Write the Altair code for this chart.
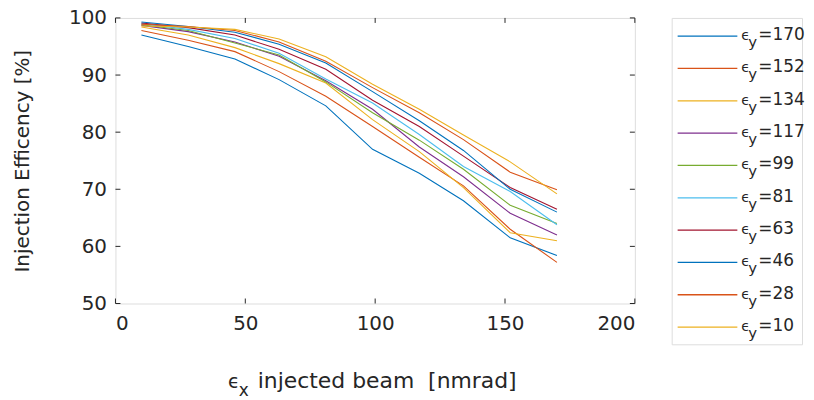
import altair as alt
import pandas as pd

# ---- data ----
x_vals = [10, 28, 46, 63, 81, 99, 117, 134, 152, 170]

e170 = [97.0, 95.0, 92.8, 89.2, 84.6, 77.0, 72.8, 68.0, 61.5, 58.4]
e152 = [97.8, 96.1, 94.1, 90.6, 86.3, 81.0, 75.6, 70.6, 63.0, 57.2]
e134 = [98.4, 97.0, 94.8, 92.0, 88.6, 82.2, 76.6, 70.3, 62.4, 61.0]
e117 = [98.7, 97.6, 95.8, 93.3, 89.0, 84.0, 77.4, 72.2, 65.8, 62.0]
e99 = [98.8, 97.8, 95.6, 93.5, 88.8, 83.4, 78.6, 73.5, 67.2, 64.0]
e81 = [99.0, 98.0, 96.4, 93.8, 89.3, 85.1, 79.6, 74.0, 69.6, 63.8]
e63 = [99.1, 98.3, 97.0, 94.5, 91.0, 85.6, 81.0, 75.8, 70.3, 66.5]
e46 = [99.3, 98.5, 97.5, 95.4, 92.1, 87.1, 82.0, 76.8, 70.0, 66.0]
e28 = [98.9, 98.5, 97.8, 95.8, 92.4, 87.8, 83.4, 78.7, 73.0, 69.9]
e10 = [98.6, 98.4, 98.0, 96.3, 93.2, 88.4, 84.0, 79.5, 74.8, 69.2]

series_names = ["170", "152", "134", "117", "99", "81", "63", "46", "28", "10"]
series_values = [e170, e152, e134, e117, e99, e81, e63, e46, e28, e10]
colors = ["#0072BD", "#D95319", "#EDB120", "#7E2F8E", "#77AC30",
          "#4DBEEE", "#A2142F", "#0072BD", "#D95319", "#EDB120"]

x_ticks = [0, 50, 100, 150, 200]
y_ticks = [50, 60, 70, 80, 90, 100]

FONT = "DejaVu Sans"
TXT = "#262626"
W, H = 522, 287

rows = []
for name, vals in zip(series_names, series_values):
    for xv, yv in zip(x_vals, vals):
        rows.append({"x": xv, "y": yv, "series": name})
df = pd.DataFrame(rows)

color_scale = alt.Scale(domain=series_names, range=colors)

lines = alt.Chart(df).mark_line(strokeWidth=1.1, clip=True).encode(
    x=alt.X("x:Q", scale=alt.Scale(domain=[0, 200], nice=False),
            axis=alt.Axis(values=x_ticks, title=None, labelFontSize=20, labelFont=FONT,
                          labelColor=TXT, tickSize=0, domain=False, grid=False,
                          labelPadding=10)),
    y=alt.Y("y:Q", scale=alt.Scale(domain=[50, 100], nice=False),
            axis=alt.Axis(values=y_ticks, title="Injection Efficency [%]",
                          titleFontSize=20, titleFont=FONT, titleColor=TXT,
                          titleFontWeight="normal", titlePadding=36,
                          labelFontSize=20, labelFont=FONT, labelColor=TXT,
                          tickSize=0, domain=False, grid=False, labelPadding=9)),
    color=alt.Color("series:N", scale=color_scale, legend=None),
    detail="series:N",
)

ydf = pd.DataFrame({"y": y_ticks})
xdf = pd.DataFrame({"x": x_ticks})
tick_l = alt.Chart(ydf).mark_rule(color=TXT, strokeWidth=1).encode(
    y="y:Q", x=alt.value(0), x2=alt.value(5))
tick_r = alt.Chart(ydf).mark_rule(color=TXT, strokeWidth=1).encode(
    y="y:Q", x=alt.value(W - 5), x2=alt.value(W))
tick_b = alt.Chart(xdf).mark_rule(color=TXT, strokeWidth=1).encode(
    x="x:Q", y=alt.value(H - 5), y2=alt.value(H))
tick_t = alt.Chart(xdf).mark_rule(color=TXT, strokeWidth=1).encode(
    x="x:Q", y=alt.value(0), y2=alt.value(5))

# x-axis title with subscript
XT_Y = 372
t_eps = alt.Chart(pd.DataFrame({"t": ["\u03f5"]})).mark_text(
    font=FONT, fontSize=19, color=TXT, align="left", baseline="alphabetic").encode(
    text="t:N", x=alt.value(113), y=alt.value(XT_Y))
t_sub = alt.Chart(pd.DataFrame({"t": ["x"]})).mark_text(
    font=FONT, fontSize=17, color=TXT, align="left", baseline="alphabetic").encode(
    text="t:N", x=alt.value(124), y=alt.value(XT_Y + 8))
t_rest = alt.Chart(pd.DataFrame({"t": ["injected beam\u00a0 [nmrad]"]})).mark_text(
    font=FONT, fontSize=22, color=TXT, align="left", baseline="alphabetic").encode(
    text="t:N", x=alt.value(143), y=alt.value(XT_Y))

main = alt.layer(lines, tick_l, tick_r, tick_b, tick_t, t_eps, t_sub, t_rest).properties(
    width=W, height=H)

# ---- legend panel ----
leg_df = pd.DataFrame({"series": series_names,
                       "eq": ["=" + s for s in series_names]})
ysc = alt.Scale(type="point", domain=series_names, range=[18.3, 310.7], padding=0)
LW, LH = 131, 328

leg_lines = alt.Chart(leg_df).mark_rule(strokeWidth=1.3).encode(
    y=alt.Y("series:N", scale=ysc, axis=None),
    x=alt.value(6), x2=alt.value(66),
    color=alt.Color("series:N", scale=color_scale, legend=None),
)
leg_eps = alt.Chart(leg_df).mark_text(font=FONT, fontSize=14, color=TXT, align="left",
                                      baseline="alphabetic", dy=4).encode(
    y=alt.Y("series:N", scale=ysc, axis=None), x=alt.value(70), text=alt.value("\u03f5"))
leg_sub = alt.Chart(leg_df).mark_text(font=FONT, fontSize=15, color=TXT, align="left",
                                      baseline="alphabetic", dy=11).encode(
    y=alt.Y("series:N", scale=ysc, axis=None), x=alt.value(77), text=alt.value("y"))
leg_eq = alt.Chart(leg_df).mark_text(font=FONT, fontSize=17, color=TXT, align="left",
                                     baseline="alphabetic", dy=4).encode(
    y=alt.Y("series:N", scale=ysc, axis=None), x=alt.value(87), text="eq:N")

legend = alt.layer(leg_lines, leg_eps, leg_sub, leg_eq).properties(width=LW, height=LH)

chart = alt.hconcat(main, legend, spacing=35).properties(
    padding={"left": 4, "top": -2, "right": 0, "bottom": 0}
).configure_view(stroke=TXT, strokeWidth=1).configure(background="white")

chart.save("out.html", embed_options={"renderer": "svg", "actions": False})
